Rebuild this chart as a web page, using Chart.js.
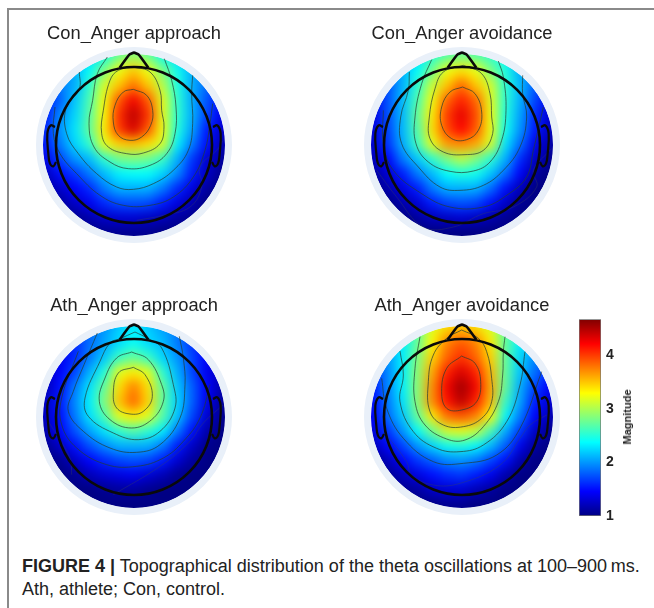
<!DOCTYPE html>
<html lang="en">
<head>
    <meta charset="UTF-8">
    <title>Topographical distribution of theta oscillations</title>
    <script src="https://cdn.jsdelivr.net/npm/chart.js"></script>
    <style>
        html, body { margin: 0; padding: 0; background: #fff; overflow: hidden; }
        body { width: 654px; height: 608px; position: relative; font-family: "Liberation Sans", Arial, sans-serif; color: #222; }
        canvas { position: absolute; }
        .frame-top { position: absolute; left: 7px; top: 8px; right: 0; height: 2px; background: #8a8a8a; }
        .frame-left { position: absolute; left: 7px; top: 8px; bottom: 0; width: 2px; background: #8a8a8a; }
        .bar-title { position: absolute; left: 627px; top: 417px; font-size: 11px; font-weight: bold; white-space: nowrap; transform: translate(-50%, -50%) rotate(-90deg); }
        .caption { position: absolute; left: 22px; top: 555px; width: 630px; margin: 0; font-size: 18px; line-height: 23px; white-space: nowrap; }
    </style>
</head>
<body>
    <div class="frame-top"></div>
    <div class="frame-left"></div>
    <canvas id="conApproach" width="204" height="226" style="left:32px;top:21px"></canvas>
    <canvas id="conAvoidance" width="204" height="226" style="left:360px;top:21px"></canvas>
    <canvas id="athApproach" width="204" height="226" style="left:32px;top:293px"></canvas>
    <canvas id="athAvoidance" width="204" height="226" style="left:360px;top:293px"></canvas>
    <canvas id="colorBar" width="60" height="236" style="left:579px;top:300px"></canvas>
    <div class="bar-title">Magnitude</div>
    <p class="caption"><b>FIGURE 4 |</b> Topographical distribution of the theta oscillations at 100–900&#8201;ms.<br>Ath, athlete; Con, control.</p>

    <script>
        // Grid the magnitudes were read on (scalp units, the disk radius is 273)
        const gridX = [-308, -264, -220, -176, -132, -88, -44, 0, 44, 88, 132, 176, 220, 264, 308];
        const gridY = [308, 264, 220, 176, 132, 88, 44, 0, -44, -88, -132, -176, -220, -264, -308];

        const conApproachValues = [
            [1.55, 1.65, 1.75, 1.95, 2.08, 2.28, 2.48, 2.58, 2.48, 2.28, 2.08, 1.95, 1.75, 1.65, 1.55],
            [1.75, 1.85, 1.95, 2.08, 2.25, 2.45, 2.8, 2.95, 2.8, 2.45, 2.25, 2.08, 1.95, 1.85, 1.75],
            [1.4, 1.55, 1.85, 2.1, 2.38, 2.83, 3.25, 3.5, 3.25, 2.83, 2.43, 2.1, 1.85, 1.55, 1.4],
            [1.4, 1.55, 1.9, 2.08, 2.53, 3.15, 3.5, 3.8, 3.5, 3.05, 2.48, 2.08, 1.85, 1.5, 1.3],
            [1.2, 1.55, 1.8, 2.18, 2.63, 3.25, 3.9, 4.25, 3.9, 3.2, 2.53, 2.08, 1.75, 1.5, 1.2],
            [1.2, 1.55, 1.95, 2.23, 2.68, 3.3, 4.05, 4.45, 4.05, 3.2, 2.53, 2.1, 1.7, 1.4, 1.15],
            [1.2, 1.6, 2.0, 2.28, 2.73, 3.35, 4.0, 4.35, 3.9, 3.25, 2.48, 2.05, 1.55, 1.3, 1.1],
            [1.2, 1.55, 1.9, 2.23, 2.53, 3.2, 3.45, 3.5, 3.4, 3.15, 2.33, 1.9, 1.5, 1.2, 1.05],
            [1.15, 1.4, 1.7, 2.0, 2.13, 2.53, 2.78, 2.83, 2.78, 2.58, 2.1, 1.65, 1.3, 1.1, 1.0],
            [1.05, 1.2, 1.5, 1.65, 1.9, 2.13, 2.33, 2.38, 2.38, 2.23, 1.95, 1.55, 1.25, 1.05, 1.0],
            [1.0, 1.1, 1.25, 1.45, 1.6, 1.9, 2.1, 2.1, 2.1, 1.9, 1.6, 1.35, 1.1, 1.0, 1.0],
            [1.0, 1.0, 1.1, 1.25, 1.4, 1.6, 1.72, 1.75, 1.72, 1.55, 1.35, 1.15, 1.0, 1.0, 1.0],
            [1.0, 1.0, 1.0, 1.05, 1.15, 1.25, 1.3, 1.3, 1.25, 1.2, 1.1, 1.05, 1.0, 1.0, 1.0],
            [1.0, 1.0, 1.0, 1.0, 1.0, 1.05, 1.05, 1.05, 1.05, 1.0, 1.0, 1.0, 1.0, 1.0, 1.0],
            [1.0, 1.0, 1.0, 1.0, 1.0, 1.0, 1.0, 1.0, 1.0, 1.0, 1.0, 1.0, 1.0, 1.0, 1.0]
        ];
        const conAvoidanceValues = [
            [1.45, 1.55, 1.65, 1.85, 2.05, 2.2, 2.4, 2.5, 2.43, 2.23, 2.1, 1.9, 1.7, 1.55, 1.45],
            [1.55, 1.65, 1.85, 2.05, 2.28, 2.53, 2.73, 2.83, 2.73, 2.58, 2.38, 2.13, 1.95, 1.75, 1.6],
            [1.35, 1.5, 1.8, 2.1, 2.38, 2.78, 3.25, 3.4, 3.25, 2.83, 2.48, 2.08, 1.85, 1.55, 1.35],
            [1.25, 1.45, 1.75, 2.1, 2.53, 3.1, 3.5, 3.85, 3.5, 3.15, 2.53, 2.13, 1.8, 1.45, 1.25],
            [1.15, 1.4, 1.75, 2.15, 2.63, 3.25, 3.85, 4.1, 3.85, 3.2, 2.53, 2.1, 1.7, 1.4, 1.15],
            [1.1, 1.35, 1.75, 2.13, 2.73, 3.35, 4.0, 4.3, 3.95, 3.25, 2.48, 2.05, 1.6, 1.3, 1.1],
            [1.1, 1.35, 1.7, 2.13, 2.68, 3.4, 3.95, 4.2, 3.9, 3.25, 2.43, 2.0, 1.55, 1.25, 1.05],
            [1.05, 1.3, 1.65, 2.08, 2.58, 3.2, 3.65, 3.7, 3.6, 3.15, 2.28, 1.85, 1.4, 1.15, 1.0],
            [1.0, 1.2, 1.45, 1.9, 2.18, 2.53, 2.83, 3.05, 2.83, 2.53, 2.1, 1.6, 1.25, 1.05, 1.0],
            [1.0, 1.1, 1.3, 1.55, 1.9, 2.13, 2.38, 2.48, 2.43, 2.18, 1.85, 1.45, 1.1, 1.0, 1.0],
            [1.0, 1.0, 1.15, 1.35, 1.55, 1.9, 2.1, 2.1, 2.1, 1.85, 1.5, 1.2, 1.0, 1.0, 1.0],
            [1.0, 1.0, 1.0, 1.15, 1.3, 1.55, 1.7, 1.75, 1.7, 1.5, 1.25, 1.05, 1.0, 1.0, 1.0],
            [1.0, 1.0, 1.0, 1.0, 1.1, 1.2, 1.25, 1.3, 1.25, 1.15, 1.05, 1.0, 1.0, 1.0, 1.0],
            [1.0, 1.0, 1.0, 1.0, 1.0, 1.0, 1.0, 1.0, 1.0, 1.0, 1.0, 1.0, 1.0, 1.0, 1.0],
            [1.0, 1.0, 1.0, 1.0, 1.0, 1.0, 1.0, 1.0, 1.0, 1.0, 1.0, 1.0, 1.0, 1.0, 1.0]
        ];
        const athApproachValues = [
            [1.2, 1.3, 1.4, 1.55, 1.7, 1.85, 2.0, 2.1, 2.0, 1.9, 1.7, 1.55, 1.4, 1.3, 1.2],
            [1.3, 1.4, 1.5, 1.65, 1.85, 2.0, 2.2, 2.35, 2.2, 2.05, 1.9, 1.7, 1.5, 1.4, 1.3],
            [1.15, 1.3, 1.45, 1.6, 1.85, 2.05, 2.25, 2.4, 2.25, 2.13, 1.9, 1.65, 1.45, 1.3, 1.15],
            [1.1, 1.25, 1.4, 1.6, 1.9, 2.18, 2.58, 2.75, 2.58, 2.23, 2.0, 1.7, 1.45, 1.25, 1.1],
            [1.05, 1.2, 1.45, 1.7, 2.1, 2.48, 3.2, 3.35, 3.2, 2.53, 2.1, 1.7, 1.4, 1.2, 1.05],
            [1.05, 1.2, 1.5, 1.9, 2.28, 2.73, 3.4, 3.75, 3.4, 2.73, 2.18, 1.8, 1.45, 1.15, 1.0],
            [1.05, 1.25, 1.55, 1.95, 2.33, 2.83, 3.5, 3.85, 3.45, 2.73, 2.23, 1.8, 1.4, 1.1, 1.0],
            [1.05, 1.25, 1.5, 1.9, 2.28, 2.63, 3.2, 3.35, 3.2, 2.68, 2.18, 1.7, 1.3, 1.05, 1.0],
            [1.0, 1.15, 1.45, 1.75, 2.05, 2.28, 2.53, 2.68, 2.53, 2.33, 1.9, 1.5, 1.15, 1.0, 1.0],
            [1.0, 1.05, 1.25, 1.5, 1.75, 1.95, 2.1, 2.1, 2.1, 1.9, 1.55, 1.25, 1.05, 1.0, 1.0],
            [1.0, 1.0, 1.05, 1.25, 1.45, 1.6, 1.7, 1.75, 1.7, 1.55, 1.3, 1.1, 1.0, 1.0, 1.0],
            [1.0, 1.0, 1.0, 1.05, 1.2, 1.3, 1.35, 1.4, 1.3, 1.2, 1.05, 1.0, 1.0, 1.0, 1.0],
            [1.0, 1.0, 1.0, 1.0, 1.0, 1.05, 1.1, 1.1, 1.05, 1.0, 1.0, 1.0, 1.0, 1.0, 1.0],
            [1.0, 1.0, 1.0, 1.0, 1.0, 1.0, 1.0, 1.0, 1.0, 1.0, 1.0, 1.0, 1.0, 1.0, 1.0],
            [1.0, 1.0, 1.0, 1.0, 1.0, 1.0, 1.0, 1.0, 1.0, 1.0, 1.0, 1.0, 1.0, 1.0, 1.0]
        ];
        const athAvoidanceValues = [
            [2.0, 2.1, 2.25, 2.4, 2.63, 2.9, 3.2, 3.35, 3.2, 2.9, 2.63, 2.4, 2.25, 2.1, 2.0],
            [1.95, 2.05, 2.2, 2.45, 2.73, 3.2, 3.45, 3.55, 3.45, 3.2, 2.73, 2.48, 2.2, 2.05, 1.95],
            [1.7, 1.9, 2.1, 2.33, 2.73, 3.3, 3.75, 3.9, 3.75, 3.35, 2.73, 2.33, 2.1, 1.9, 1.7],
            [1.5, 1.75, 2.0, 2.33, 2.83, 3.45, 3.85, 4.05, 3.85, 3.45, 2.73, 2.23, 1.95, 1.7, 1.5],
            [1.4, 1.6, 1.95, 2.33, 2.88, 3.6, 4.1, 4.35, 4.1, 3.55, 2.73, 2.18, 1.85, 1.6, 1.4],
            [1.3, 1.55, 1.95, 2.33, 2.88, 3.7, 4.25, 4.55, 4.25, 3.6, 2.73, 2.08, 1.7, 1.45, 1.25],
            [1.25, 1.5, 1.9, 2.28, 2.88, 3.7, 4.15, 4.45, 4.1, 3.55, 2.58, 2.05, 1.55, 1.3, 1.15],
            [1.2, 1.45, 1.85, 2.18, 2.73, 3.35, 3.8, 3.9, 3.75, 3.3, 2.38, 1.9, 1.45, 1.2, 1.05],
            [1.1, 1.35, 1.65, 2.0, 2.38, 2.78, 3.15, 3.2, 3.1, 2.63, 2.08, 1.65, 1.25, 1.05, 1.0],
            [1.0, 1.2, 1.45, 1.7, 2.0, 2.23, 2.43, 2.48, 2.38, 2.13, 1.8, 1.4, 1.1, 1.0, 1.0],
            [1.0, 1.05, 1.2, 1.45, 1.65, 1.8, 1.95, 2.0, 1.9, 1.7, 1.5, 1.15, 1.0, 1.0, 1.0],
            [1.0, 1.0, 1.05, 1.2, 1.35, 1.5, 1.6, 1.65, 1.55, 1.4, 1.15, 1.0, 1.0, 1.0, 1.0],
            [1.0, 1.0, 1.0, 1.05, 1.1, 1.25, 1.3, 1.3, 1.2, 1.1, 1.0, 1.0, 1.0, 1.0, 1.0],
            [1.0, 1.0, 1.0, 1.0, 1.0, 1.0, 1.05, 1.05, 1.0, 1.0, 1.0, 1.0, 1.0, 1.0, 1.0],
            [1.0, 1.0, 1.0, 1.0, 1.0, 1.0, 1.0, 1.0, 1.0, 1.0, 1.0, 1.0, 1.0, 1.0, 1.0]
        ];

        // Contour lines
        const conApproachContours = [
            [[-2,167],[38,149],[56,104],[50,59],[23,24],[-12,14],[-47,29],[-62,69],[-57,119],[-32,159],[-2,167]],
            [[-2,234],[48,219],[78,164],[83,104],[90,54],[78,4],[28,-24],[-22,-26],[-77,-6],[-97,34],[-92,104],[-72,194],[-47,224],[-2,234]],
            [[-80,264],[-110,214],[-124,134],[-135,64],[-120,-6],[-72,-51],[-17,-71],[48,-61],[98,-26],[123,34],[126,114],[113,194],[91,259]],
            [[-164,219],[-164,169],[-204,109],[-202,34],[-167,-26],[-112,-86],[-52,-126],[-2,-133],[58,-116],[118,-76],[163,-16],[176,64],[173,154],[176,209]],
            [[-237,114],[-242,34],[-222,-26],[-172,-86],[-102,-151],[-32,-181],[48,-181],[118,-156],[178,-96],[213,-16],[228,64],[236,124]]
        ];
        const conApproachFaint = [
            [[-212,-106],[-172,-156]],
            [[8,-226],[88,-211],[168,-186],[203,-126],[198,-66],[248,-16],[268,14]]
        ];
        const conAvoidanceContours = [
            [[2,174],[39,154],[59,99],[49,44],[14,16],[-31,19],[-61,59],[-61,114],[-36,159],[2,174]],
            [[4,239],[59,214],[84,154],[89,84],[92,34],[64,-16],[9,-29],[-56,-21],[-96,19],[-98,84],[-81,169],[-56,219],[4,239]],
            [[-91,256],[-121,184],[-141,84],[-138,4],[-101,-51],[-36,-79],[34,-78],[84,-51],[119,14],[132,104],[124,204],[109,252]],
            [[-158,219],[-161,164],[-184,84],[-181,4],[-131,-66],[-66,-126],[-6,-136],[64,-121],[124,-76],[174,-6],[194,84],[182,154],[182,209]],
            [[-236,104],[-236,4],[-206,-76],[-121,-146],[-36,-186],[64,-186],[134,-151],[194,-96],[214,-16],[244,114]]
        ];
        const conAvoidanceFaint = [
            [[-256,-76],[-196,-156],[-116,-246],[-26,-246],[64,-206],[154,-186],[224,-126],[214,-76],[254,-26],[269,-11]]
        ];
        const athApproachContours = [
            [[-2,149],[33,127],[55,62],[28,17],[-12,9],[-52,27],[-62,72],[-47,132],[-2,149]],
            [[-7,195],[43,172],[83,97],[88,47],[53,-8],[-7,-33],[-72,-8],[-104,47],[-87,117],[-52,177],[-7,195]],
            [[3,255],[-42,235],[-72,222],[-102,167],[-147,57],[-137,2],[-62,-48],[13,-68],[78,-43],[123,27],[118,97],[83,207],[43,235],[3,255]],
            [[-110,252],[-150,157],[-182,77],[-197,17],[-152,-43],[-72,-93],[8,-106],[78,-83],[138,-3],[153,97],[148,177],[136,242]],
            [[-167,197],[-217,57],[-217,-23],[-172,-93],[-82,-143],[8,-148],[88,-123],[148,-73],[198,-3],[228,97]]
        ];
        const athApproachFaint = [
            [[-257,-13],[-192,-123],[-187,-173]],
            [[-62,-233],[78,-148],[168,-73],[208,-18],[268,37]]
        ];
        const athAvoidanceContours = [
            [[-1,183],[39,161],[56,106],[44,46],[-1,21],[-46,26],[-61,76],[-46,146],[-1,183]],
            [[-1,261],[49,236],[74,196],[89,116],[89,46],[59,-4],[4,-29],[-56,-24],[-96,16],[-101,106],[-86,186],[-46,236],[-1,261]],
            [[-126,241],[-141,146],[-141,46],[-111,-24],[-46,-66],[9,-69],[64,-29],[109,46],[122,126],[124,196],[129,241]],
            [[-186,198],[-176,126],[-186,46],[-146,-44],[-76,-94],[-6,-104],[64,-84],[134,-14],[174,96],[189,196]],
            [[-241,116],[-226,26],[-176,-64],[-86,-134],[4,-139],[104,-114],[174,-34],[239,136]]
        ];
        const athAvoidanceFaint = [
            [[-226,-54],[-166,-134],[-151,-174],[-86,-204],[-6,-199],[114,-144],[174,-64],[204,-24],[254,6]]
        ];

        // Head drawing, same for all four maps
        const noseLine = [[-43,232],[-14,271],[0,277],[14,271],[43,232]];
        const leftEar = [[-237,54],[-250,59],[-260,34],[-257,-26],[-252,-56],[-242,-64],[-234,-51]];
        const rightEar = [[237,54],[250,59],[260,34],[257,-26],[252,-56],[242,-64],[234,-51]];
        const diskRadius = 273;
        const headRadius = 234;

        // Colour bar
        const barRange = [1, 4.67];
        const barTicks = [1, 2, 3, 4];
        const jetStops = [
            [0, 0, 0, 131], [0.125, 0, 0, 255], [0.375, 0, 255, 255],
            [0.625, 255, 255, 0], [0.875, 255, 0, 0], [1, 128, 0, 0]
        ];

        function jetColor(value) {
            const t = Math.min(1, Math.max(0, (value - barRange[0]) / (barRange[1] - barRange[0])));
            for (let i = 1; i < jetStops.length; i++) {
                if (t <= jetStops[i][0]) {
                    const a = jetStops[i - 1], b = jetStops[i];
                    const f = (t - a[0]) / (b[0] - a[0]);
                    return `rgb(${a[1] + (b[1] - a[1]) * f},${a[2] + (b[2] - a[2]) * f},${a[3] + (b[3] - a[3]) * f})`;
                }
            }
        }

        function toPoints(line) {
            return line.map(p => ({ x: p[0], y: p[1] }));
        }

        function lineDataset(line, color, width, order, tension) {
            return {
                data: toPoints(line), showLine: true, tension: tension, pointRadius: 0,
                borderColor: color, borderWidth: width, order: order
            };
        }

        // Radius in canvas pixels for a length in scalp units
        function unitsToPixels(chart, units) {
            const x = chart.scales.x;
            return Math.abs(x.getPixelForValue(units) - x.getPixelForValue(0));
        }

        // Smooths the drawn cells and keeps only what falls on the disk
        const smoothDisk = {
            id: 'smoothDisk',
            afterDatasetDraw(chart, args) {
                if (args.index !== 0) return;
                const ctx = chart.ctx, area = chart.chartArea;
                const w = area.right - area.left, h = area.bottom - area.top;
                const off = document.createElement('canvas');
                off.width = chart.canvas.width;
                off.height = chart.canvas.height;
                const offCtx = off.getContext('2d');
                offCtx.filter = 'blur(6px)';
                offCtx.drawImage(chart.canvas, area.left, area.top, w, h, area.left, area.top, w, h);

                const cx = chart.scales.x.getPixelForValue(0);
                const cy = chart.scales.y.getPixelForValue(0);
                const r = unitsToPixels(chart, diskRadius);
                ctx.save();
                ctx.beginPath();
                ctx.rect(area.left, area.top, w, h);
                ctx.arc(cx, cy, r, 0, Math.PI * 2);
                ctx.clip('evenodd');
                ctx.clearRect(area.left, area.top, w, h);
                ctx.restore();
                ctx.save();
                ctx.beginPath();
                ctx.arc(cx, cy, r, 0, Math.PI * 2);
                ctx.clip();
                ctx.drawImage(off, 0, 0);
                ctx.restore();
            }
        };

        function drawHead(id, title, values, contours, faint) {
            const cells = [];
            gridY.forEach((y, row) => gridX.forEach((x, col) => cells.push({ x: x, y: y, v: values[row][col] })));

            const datasets = [{
                data: cells,
                pointStyle: 'rect',
                pointRadius: ctx => unitsToPixels(ctx.chart, 22) * Math.SQRT2 + 1,
                pointBackgroundColor: ctx => jetColor(ctx.raw.v),
                pointBorderWidth: 0,
                order: 10
            }, {
                // pale ring round the disk
                data: [{ x: 0, y: 0 }],
                pointRadius: ctx => unitsToPixels(ctx.chart, diskRadius) + 3.5,
                pointBackgroundColor: 'transparent',
                pointBorderColor: '#e9f0f9',
                pointBorderWidth: 7,
                order: 9
            }];
            contours.forEach(line => datasets.push(lineDataset(line, 'rgba(35,60,50,0.7)', 1, 5, 0.4)));
            faint.forEach(line => datasets.push(lineDataset(line, 'rgba(60,70,90,0.35)', 1, 5, 0.4)));
            datasets.push({
                data: [{ x: 0, y: 0 }],
                pointRadius: ctx => unitsToPixels(ctx.chart, headRadius),
                pointBackgroundColor: 'transparent',
                pointBorderColor: '#0a0a0a',
                pointBorderWidth: 2.6,
                order: 1
            });
            datasets.push(lineDataset(noseLine, '#0a0a0a', 2.6, 1, 0.15));
            datasets.push(lineDataset(leftEar, '#0a0a0a', 2.2, 1, 0.4));
            datasets.push(lineDataset(rightEar, '#0a0a0a', 2.2, 1, 0.4));

            new Chart(document.getElementById(id), {
                type: 'scatter',
                data: { datasets: datasets },
                plugins: [smoothDisk],
                options: {
                    responsive: false,
                    animation: false,
                    events: [],
                    layout: { padding: 0 },
                    scales: {
                        x: { type: 'linear', min: -306, max: 306, display: false },
                        y: { type: 'linear', min: -306, max: 306, display: false }
                    },
                    plugins: {
                        legend: { display: false },
                        tooltip: { enabled: false },
                        title: {
                            display: true,
                            text: title,
                            color: '#222',
                            font: { family: '"Liberation Sans", Arial, sans-serif', size: 18.3, weight: 'normal', lineHeight: 1.2 },
                            padding: { top: 2.04, bottom: -2 }
                        }
                    }
                }
            });
        }

        drawHead('conApproach', 'Con_Anger approach', conApproachValues, conApproachContours, conApproachFaint);
        drawHead('conAvoidance', 'Con_Anger avoidance', conAvoidanceValues, conAvoidanceContours, conAvoidanceFaint);
        drawHead('athApproach', 'Ath_Anger approach', athApproachValues, athApproachContours, athApproachFaint);
        drawHead('athAvoidance', 'Ath_Anger avoidance', athAvoidanceValues, athAvoidanceContours, athAvoidanceFaint);

        // Colour bar: one floating bar filled through the y scale
        new Chart(document.getElementById('colorBar'), {
            type: 'bar',
            data: {
                labels: ['Magnitude'],
                datasets: [{
                    data: [barRange],
                    barPercentage: 1,
                    categoryPercentage: 1,
                    borderColor: 'rgba(60,60,60,0.7)',
                    borderWidth: 1,
                    borderSkipped: false,
                    backgroundColor: ctx => {
                        const y = ctx.chart.scales.y;
                        const y0 = y ? y.getPixelForValue(barRange[0]) : NaN;
                        const y1 = y ? y.getPixelForValue(barRange[1]) : NaN;
                        if (!isFinite(y0) || !isFinite(y1)) return '#00008b';
                        const g = ctx.chart.ctx.createLinearGradient(0, y0, 0, y1);
                        jetStops.forEach(s => g.addColorStop(s[0], `rgb(${s[1]},${s[2]},${s[3]})`));
                        return g;
                    }
                }]
            },
            options: {
                responsive: false,
                animation: false,
                events: [],
                layout: { padding: { top: 19.3, bottom: 20 } },
                scales: {
                    x: { display: false },
                    y: {
                        position: 'right',
                        min: barRange[0],
                        max: barRange[1],
                        afterFit: axis => { axis.width = 38; },
                        afterBuildTicks: axis => { axis.ticks = barTicks.map(v => ({ value: v })); },
                        border: { display: false },
                        grid: { display: false, drawTicks: false },
                        ticks: {
                            padding: 5,
                            color: '#222',
                            font: { family: '"Liberation Sans", Arial, sans-serif', size: 14, weight: 'bold' }
                        }
                    }
                },
                plugins: { legend: { display: false }, tooltip: { enabled: false } }
            }
        });
    </script>
</body>
</html>
